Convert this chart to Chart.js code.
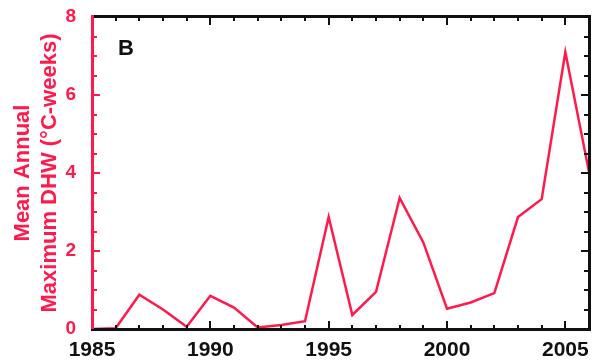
<!DOCTYPE html>
<html>
<head>
<meta charset="utf-8">
<script src="https://cdn.jsdelivr.net/npm/chart.js@4.4.1/dist/chart.umd.min.js"></script>
<style>
    html, body { margin: 0; padding: 0; background: #fff; }
    #wrap { width: 592px; height: 364px; position: relative; }
</style>
</head>
<body>
<div id="wrap"><canvas id="dhwChart"></canvas></div>
<script>
// serie anual de DHW maximo medio
const years = [1985, 1986, 1987, 1988, 1989, 1990, 1991, 1992, 1993, 1994, 1995,
               1996, 1997, 1998, 1999, 2000, 2001, 2002, 2003, 2004, 2005, 2006];
const dhwMax = [0.0, 0.02, 0.88, 0.5, 0.06, 0.85, 0.55, 0.04, 0.1, 0.2, 2.87,
                0.36, 0.95, 3.36, 2.22, 0.52, 0.68, 0.92, 2.87, 3.33, 7.1, 4.03];

const xLabelTicks = [1985, 1990, 1995, 2000, 2005];
const yLabelTicks = [0, 2, 4, 6, 8];
const yMinorTicks = [0.5, 1, 1.5, 2.5, 3, 3.5, 4.5, 5, 5.5, 6.5, 7, 7.5];
const yTitle = ['Mean Annual', 'Maximum DHW (°C-weeks)'];
const panelLabel = 'B';

const RED = '#ff1a4b';
const INK = '#111111';
const FONT = "'Liberation Sans', Arial, sans-serif";

// moldura com ticks para dentro nos quatro lados + letra do painel
const frameTicks = {
    id: 'frameTicks',
    afterDraw(chart) {
        const c = chart.ctx;
        const a = chart.chartArea;
        const x = chart.scales.x;
        const y = chart.scales.y;
        const L = Math.round(a.left), R = Math.round(a.right);
        const T = Math.round(a.top), B = Math.round(a.bottom);
        c.save();

        // ticks horizontais (todo ano), embaixo e em cima
        c.fillStyle = INK;
        years.forEach(yr => {
            const px = Math.round(x.getPixelForValue(yr));
            const len = yr % 5 === 0 ? 8 : 4;
            c.fillRect(px - 1, B - len, 2, len);
            c.fillRect(px - 1, T, 2, len);
        });

        // ticks verticais: esquerda vermelha, direita preta
        yLabelTicks.concat(yMinorTicks).forEach(v => {
            const py = Math.round(y.getPixelForValue(v));
            const len = yLabelTicks.includes(v) ? 8 : 5;
            c.fillStyle = RED;
            c.fillRect(L, py - 1, len, 2);
            c.fillStyle = INK;
            c.fillRect(R - len, py - 1, len, 2);
        });

        // bordas
        c.fillStyle = INK;
        c.fillRect(L - 1, T - 2, R - L + 3, 3);
        c.fillRect(L - 1, B - 1, R - L + 3, 3);
        c.fillRect(R - 1, T - 2, 3, B - T + 4);
        c.fillStyle = RED;
        c.fillRect(L - 1, T - 2, 3, B - T + 2);

        c.fillStyle = INK;
        c.font = `bold 22px ${FONT}`;
        c.textBaseline = 'alphabetic';
        c.fillText(panelLabel, L + 26, T + 38);
        c.restore();
    }
};

new Chart(document.getElementById('dhwChart'), {
    type: 'line',
    data: {
        datasets: [{
            data: years.map((yr, i) => ({ x: yr, y: dhwMax[i] })),
            borderColor: RED,
            borderWidth: 2.5,
            pointRadius: 0,
            tension: 0,
            fill: false
        }]
    },
    options: {
        responsive: true,
        maintainAspectRatio: false,
        animation: false,
        layout: { padding: { top: 17, right: 3, left: 0, bottom: 0 } },
        plugins: { legend: { display: false }, tooltip: { enabled: false } },
        scales: {
            x: {
                type: 'linear',
                min: 1985,
                max: 2006,
                grid: { display: false },
                border: { display: false },
                afterBuildTicks: s => { s.ticks = xLabelTicks.map(v => ({ value: v })); },
                afterFit: s => { s.height = 35; },
                ticks: {
                    autoSkip: false,
                    maxRotation: 0,
                    padding: 1,
                    color: INK,
                    font: { family: FONT, size: 21, weight: 'bold' },
                    callback: v => String(v)
                }
            },
            y: {
                min: 0,
                max: 8,
                grid: { display: false },
                border: { display: false },
                afterBuildTicks: s => { s.ticks = yLabelTicks.map(v => ({ value: v })); },
                afterFit: s => { s.width = 92; },
                ticks: {
                    padding: 8,
                    color: RED,
                    font: { family: FONT, size: 19, weight: 'bold', lineHeight: 0.8 }
                },
                title: {
                    display: true,
                    text: yTitle,
                    color: RED,
                    padding: { top: 10, bottom: 0 },
                    font: { family: FONT, size: 22, weight: 'bold', lineHeight: 1.2 }
                }
            }
        }
    },
    plugins: [frameTicks]
});
</script>
</body>
</html>
